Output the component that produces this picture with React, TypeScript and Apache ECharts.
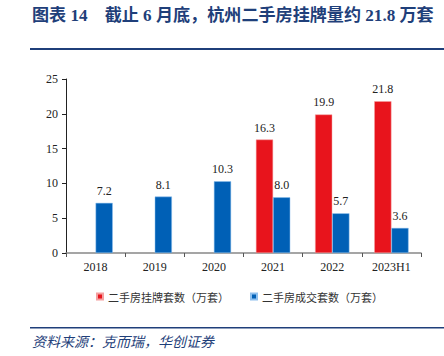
import React, { useEffect, useRef } from "react";
import * as echarts from "echarts";

const categories = ["2018", "2019", "2020", "2021", "2022", "2023H1"];
const listings: (number | null)[] = [null, null, null, 16.3, 19.9, 21.8];
const deals: number[] = [7.2, 8.1, 10.3, 8.0, 5.7, 3.6];
const seriesNames = ["二手房挂牌套数（万套）", "二手房成交套数（万套）"];
const titleText = "图表 14    截止 6 月底，杭州二手房挂牌量约 21.8 万套";
const sourceText = "资料来源：克而瑞，华创证券";

const NAVY = "#1f3f7a";
const SERIF = "'Liberation Serif', 'Times New Roman', 'Noto Sans CJK SC', serif";

export default function App() {
  const ref = useRef<HTMLDivElement>(null);
  useEffect(() => {
    if (!ref.current) return;
    const chart = echarts.init(ref.current, null, { renderer: "svg" });
    const label = {
      show: true,
      position: "top" as const,
      fontFamily: SERIF,
      fontSize: 12,
      color: "#222",
      distance: 6,
      formatter: (p: any) => (p.value == null ? "" : Number(p.value).toFixed(1)),
    };
    chart.setOption({
      animation: false,
      backgroundColor: "#ffffff",
      graphic: [
        {
          type: "text",
          left: 32,
          top: 7,
          style: {
            text: titleText,
            fontFamily: SERIF,
            fontWeight: "bold",
            fontSize: 17.1,
            fill: NAVY,
          },
        },
        {
          type: "rect",
          shape: { x: 30, y: 48, width: 414, height: 2 },
          style: { fill: NAVY },
        },
        {
          type: "rect",
          shape: { x: 30, y: 327, width: 414, height: 1.5 },
          style: { fill: NAVY },
        },
        {
          type: "text",
          left: 32,
          top: 334,
          style: {
            text: sourceText,
            fontFamily: "'Noto Sans CJK SC', sans-serif",
            fontStyle: "italic",
            fontSize: 14,
            fill: NAVY,
          },
        },
      ],
      legend: {
        data: seriesNames,
        top: 286,
        left: 91,
        itemWidth: 6,
        itemHeight: 6,
        itemGap: 21,
        icon: "rect",
        textStyle: {
          fontFamily: "'Noto Sans CJK SC', sans-serif",
          fontSize: 11,
          color: "#333",
        },
      },
      grid: { left: 66, right: 23, top: 79, bottom: 103, containLabel: false },
      xAxis: {
        type: "category",
        data: categories,
        axisLine: { show: true, lineStyle: { color: "#888", width: 1.5 } },
        axisTick: { show: true, length: 4, lineStyle: { color: "#555" } },
        axisLabel: { fontFamily: SERIF, fontSize: 12, color: "#222", margin: 8 },
      },
      yAxis: {
        type: "value",
        min: 0,
        max: 25,
        interval: 5,
        axisLine: { show: true, lineStyle: { color: "#222" } },
        axisTick: { show: true, length: 4, lineStyle: { color: "#222" } },
        axisLabel: { fontFamily: SERIF, fontSize: 12, color: "#222", margin: 8 },
        splitLine: { show: false },
      },
      series: [
        {
          name: seriesNames[0],
          type: "bar",
          data: listings,
          barGap: "0%",
          barCategoryGap: "42%",
          itemStyle: { color: "#e8141c", borderColor: "#f4a0a0", borderWidth: 0.5 },
          label,
        },
        {
          name: seriesNames[1],
          type: "bar",
          data: deals,
          barGap: "0%",
          barCategoryGap: "42%",
          itemStyle: { color: "#0060b6", borderColor: "#8fc0ee", borderWidth: 0.5 },
          label,
        },
      ],
    });
    return () => chart.dispose();
  }, []);
  return (
    <div
      ref={ref}
      style={{ position: "fixed", left: 0, top: 0, width: 444, height: 356 }}
    />
  );
}
